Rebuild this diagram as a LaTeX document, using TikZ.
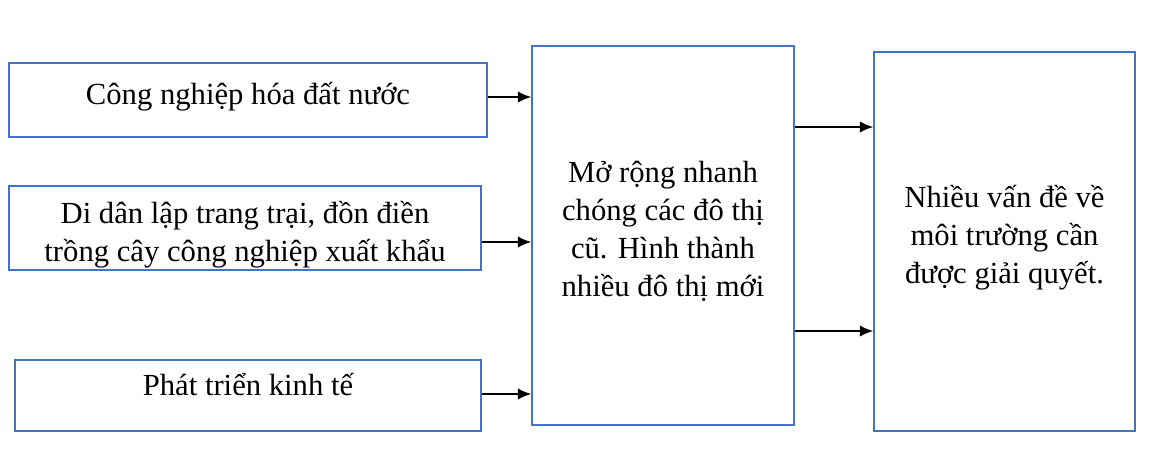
\documentclass[tikz,border=0pt]{standalone}
\usepackage{fontspec}
\setmainfont{Liberation Serif}
\usetikzlibrary{arrows.meta}
\definecolor{boxblue}{RGB}{68,114,196}
\tikzset{
	box/.style={draw=boxblue,line width=1.1pt,inner sep=0pt,align=center,
		font=\fontsize{23}{28.5}\selectfont},
	arr/.style={-{Latex[length=10pt,width=8.5pt]},line width=1.3pt}
}
\newcommand{\movetext}[2]{\raisebox{#1}[\height][\depth]{\begin{tabular}{@{}c@{}}#2\end{tabular}}}
\begin{document}
\begin{tikzpicture}[x=0.75pt,y=-0.75pt]
		\useasboundingbox (0,0) rectangle (1159,458);
		\node[box,minimum width=358.5pt,minimum height=55.5pt] (cnh) at (248,100) {\movetext{2pt}{Công nghiệp hóa đất nước}};
		\node[box,minimum width=354pt,minimum height=63pt] (didan) at (245,228) {\movetext{-5pt}{Di dân lập trang trại, đồn điền\\trồng cây công nghiệp xuất khẩu}};
		\node[box,minimum width=349.5pt,minimum height=53.25pt] (ptkt) at (248,395.5) {\movetext{6pt}{Phát triển kinh tế}};
		\node[box,minimum width=196.5pt,minimum height=284.25pt] (dothi) at (663,235.5) {\movetext{3pt}{Mở rộng nhanh\\chóng các đô thị\\cũ. Hình thành\\nhiều đô thị mới}};
		\node[box,minimum width=195.75pt,minimum height=284.25pt] (moitruong) at (1004.5,241.5) {\movetext{3pt}{Nhiều vấn đề về\\môi trường cần\\được giải quyết.}};
		\draw[arr] (cnh.east |- 0,97) -- (dothi.west |- 0,97);
		\draw[arr] (didan.east |- 0,242) -- (dothi.west |- 0,242);
		\draw[arr] (ptkt.east |- 0,394) -- (dothi.west |- 0,394);
		\draw[arr] (dothi.east |- 0,127) -- (moitruong.west |- 0,127);
		\draw[arr] (dothi.east |- 0,331) -- (moitruong.west |- 0,331);
		\end{tikzpicture}
\end{document}
